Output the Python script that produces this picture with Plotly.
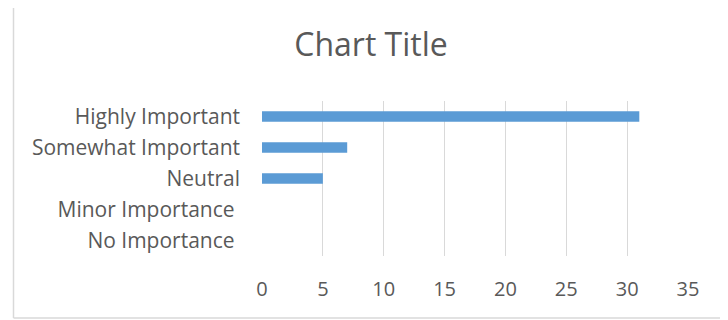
import plotly.graph_objects as go

categories = ["Highly Important", "Somewhat Important", "Neutral", "Minor Importance\u00a0", "No Importance\u00a0"]
values = [31, 7, 5, 0, 0]
tick_values = [0, 5, 10, 15, 20, 25, 30, 35]

# page is rendered with an 8px body margin, so work in page pixels and offset
OFF = 8
W, H = 728 - OFF, 320 - OFF
L, T = 262 - OFF, 101 - OFF
R = W - (688 - OFF)
B = H - (256 - OFF)
pw, ph = W - L - R, H - T - B

def px_x(px):
    return (px - OFF - L) / pw

def px_y(py):
    return (H - B - (py - OFF)) / ph

fig = go.Figure(go.Bar(
    y=categories, x=values, orientation="h",
    marker=dict(color="#5B9BD5", line=dict(width=0)),
    width=0.34,
))

font_fam = "Open Sans, Noto Sans, sans-serif"
fig.update_layout(
    width=W, height=H,
    margin=dict(l=L, r=R, t=T, b=B),
    paper_bgcolor="white", plot_bgcolor="white",
    showlegend=False,
    title=dict(text="Chart Title", x=(371 - OFF) / W, xanchor="center", y=1 - (45 - OFF) / H, yanchor="middle",
               font=dict(family=font_fam, size=32, color="#595959")),
    xaxis=dict(range=[0, 35], tickvals=tick_values, showgrid=True, gridcolor="#D9D9D9", gridwidth=1,
               zeroline=False, showline=False, ticks="",
               tickfont=dict(family=font_fam, size=20, color="#595959"),
               ticklabelstandoff=19, fixedrange=True),
    yaxis=dict(autorange="reversed", showgrid=False, zeroline=False, showline=False, ticks="",
               tickfont=dict(family=font_fam, size=21, color="#595959"),
               ticklabelstandoff=21, fixedrange=True),
    shapes=[
        dict(type="line", xref="paper", yref="paper", x0=px_x(13.5), x1=px_x(13.5), y0=px_y(2), y1=px_y(318),
             line=dict(color="#D9D9D9", width=1.5)),
        dict(type="line", xref="paper", yref="paper", x0=px_x(13.5), x1=px_x(740), y0=px_y(2), y1=px_y(2),
             line=dict(color="#D9D9D9", width=1.5)),
        dict(type="line", xref="paper", yref="paper", x0=px_x(13.5), x1=px_x(740), y0=px_y(318), y1=px_y(318),
             line=dict(color="#D9D9D9", width=1.5)),
    ],
)

fig.write_html("out.html", config={"displayModeBar": False})
